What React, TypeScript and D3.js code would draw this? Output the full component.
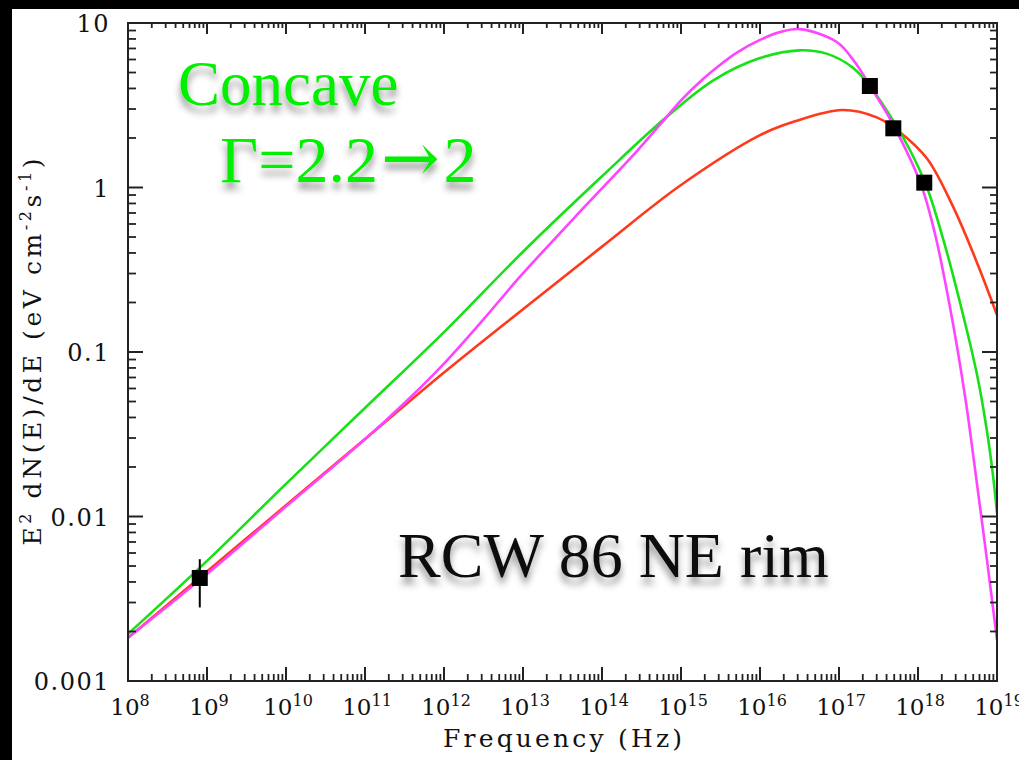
import React from 'react';
import * as d3 from 'd3';

// ---- data ----
const redFreq = [1e8, 1e9, 1e10, 1e11, 1e12, 1e13, 1e14, 1e15, 1e16, 2.6e16, 1.1e17, 3e17, 5.9e17, 1.3e18, 2.75e18, 5.6e18, 1e19];
const redValue = [0.00183, 0.00463, 0.0117, 0.0296, 0.075, 0.182, 0.437, 1.035, 2.08, 2.5, 2.96, 2.67, 2.17, 1.5, 0.773, 0.348, 0.168];

const greenFreq = [1e8, 1e9, 1e10, 1e11, 1e12, 1e13, 1e14, 6.6e14, 2.6e15, 1e16, 3.2e16, 7.1e16, 1.5e17, 2.45e17, 4.8e17, 7.9e17, 1.3e18, 2.1e18, 3.4e18, 5.6e18, 7.4e18, 8.9e18, 1e19];
const greenValue = [0.00193, 0.00537, 0.0158, 0.0457, 0.132, 0.407, 1.17, 2.69, 4.5, 6.12, 6.82, 6.49, 5.35, 4.14, 2.57, 1.69, 1.0, 0.479, 0.2, 0.0724, 0.0339, 0.0178, 0.0105];

const magentaFreq = [1e8, 1e9, 1e10, 1e11, 3.16e11, 1e12, 3.16e12, 9.1e12, 6.5e13, 2.75e14, 6.6e14, 1e15, 1.9e15, 3.2e15, 5.1e15, 1e16, 1.8e16, 3.2e16, 9.3e16, 1.6e17, 2.45e17, 4.8e17, 1.07e18, 1.6e18, 2.5e18, 4e18, 5.5e18, 7.4e18, 1e19];
const magentaValue = [0.00183, 0.00447, 0.0115, 0.0295, 0.049, 0.0851, 0.158, 0.286, 0.794, 1.66, 2.69, 3.39, 4.57, 5.62, 6.61, 7.89, 8.81, 9.18, 7.69, 5.75, 4.17, 2.43, 1.07, 0.55, 0.195, 0.0513, 0.0166, 0.00562, 0.00178];

const obsFreq = [8.1e8, 2.46e17, 4.87e17, 1.2e18];
const obsValue = [0.00423, 4.14, 2.29, 1.07];
const obsErrLow = [0.0028, null, null, null];
const obsErrHigh = [0.0055, null, null, null];

const xExponents = [8, 9, 10, 11, 12, 13, 14, 15, 16, 17, 18, 19];
const yTickValues = [0.001, 0.01, 0.1, 1, 10];
const yTickLabels = ['0.001', '0.01', '0.1', '1', '10'];

const W = 1019;
const H = 760;
const L = 128, R = 997, T = 23, B = 681;

export default function App() {
  const x = d3.scaleLog().domain([1e8, 1e19]).range([L, R]);
  const y = d3.scaleLog().domain([1e-3, 10]).range([B, T]);

  const line = d3
    .line<[number, number]>()
    .x((d) => x(d[0]))
    .y((d) => y(d[1]))
    .curve(d3.curveCatmullRom.alpha(0.5));

  const series = [
    { f: redFreq, v: redValue, color: '#ff3a1c' },
    { f: greenFreq, v: greenValue, color: '#18e018' },
    { f: magentaFreq, v: magentaValue, color: '#ff44ff' },
  ];

  const xMajor: number[] = xExponents.map((e) => Math.pow(10, e));
  const xMinor: number[] = [];
  for (let e = 8; e < 19; e++) for (let k = 2; k <= 9; k++) xMinor.push(k * Math.pow(10, e));
  const yMinor: number[] = [];
  for (let e = -3; e < 1; e++) for (let k = 2; k <= 9; k++) yMinor.push(k * Math.pow(10, e));

  const ink = '#222';
  const tickFont = "'DejaVu Serif', serif";
  const labelFont = "'DejaVu Serif', serif";
  const annFont = "'Liberation Serif', 'Times New Roman', serif";

  return (
    <svg width={W} height={H} style={{ position: 'absolute', left: 0, top: 0 }}>
      <defs>
        <filter id="shadow" x="-10%" y="-30%" width="120%" height="170%">
          <feDropShadow dx="0" dy="7" stdDeviation="3.5" floodColor="#000" floodOpacity="0.42" />
        </filter>
        <clipPath id="plotclip">
          <rect x={L} y={T} width={R - L} height={B - T} />
        </clipPath>
      </defs>
      <rect x={0} y={0} width={W} height={H} fill="#000" />
      <rect x={12} y={9} width={W - 12} height={H - 9} fill="#fff" />

      <g clipPath="url(#plotclip)">
        {series.map((s, i) => (
          <path
            key={i}
            d={line(s.f.map((f, j) => [f, s.v[j]] as [number, number])) || ''}
            fill="none"
            stroke={s.color}
            strokeWidth={2.6}
          />
        ))}
      </g>

      <rect x={L} y={T} width={R - L} height={B - T} fill="none" stroke={ink} strokeWidth={2} />

      {xMajor.map((v, i) => (
        <g key={'xM' + i}>
          <line x1={x(v)} x2={x(v)} y1={B} y2={B - 14} stroke={ink} strokeWidth={2} />
          <line x1={x(v)} x2={x(v)} y1={T} y2={T + 11} stroke={ink} strokeWidth={2} />
        </g>
      ))}
      {xMinor.map((v, i) => (
        <g key={'xm' + i}>
          <line x1={x(v)} x2={x(v)} y1={B} y2={B - 7} stroke={ink} strokeWidth={1.8} />
          <line x1={x(v)} x2={x(v)} y1={T} y2={T + 5} stroke={ink} strokeWidth={1.8} />
        </g>
      ))}
      {yTickValues.map((v, i) => (
        <g key={'yM' + i}>
          <line x1={L} x2={L + 15} y1={y(v)} y2={y(v)} stroke={ink} strokeWidth={2} />
          <line x1={R} x2={R - 15} y1={y(v)} y2={y(v)} stroke={ink} strokeWidth={2} />
        </g>
      ))}
      {yMinor.map((v, i) => (
        <g key={'ym' + i}>
          <line x1={L} x2={L + 8} y1={y(v)} y2={y(v)} stroke={ink} strokeWidth={1.8} />
          <line x1={R} x2={R - 7} y1={y(v)} y2={y(v)} stroke={ink} strokeWidth={1.8} />
        </g>
      ))}

      {yTickValues.map((v, i) => (
        <text key={'yl' + i} x={110} y={y(v) + 9} textAnchor="end" fontFamily={tickFont} fontSize={24} letterSpacing={1.5} fill="#111">
          {yTickLabels[i]}
        </text>
      ))}
      {xExponents.map((e, i) => (
        <text key={'xl' + i} x={x(Math.pow(10, e)) + 2} y={715} textAnchor="middle" fontFamily={tickFont} fontSize={23} fill="#111">
          10
          <tspan dy={-9} fontSize={16}>{String(e)}</tspan>
        </text>
      ))}

      <text x={(L + R) / 2} y={747} textAnchor="middle" fontFamily={labelFont} fontSize={25} textLength={239} lengthAdjust="spacing" fill="#111">
        Frequency (Hz)
      </text>
      <text
        transform={`translate(41, ${(T + B) / 2}) rotate(-90)`}
        textAnchor="middle"
        fontFamily={labelFont}
        fontSize={25}
        textLength={387}
        lengthAdjust="spacing"
        fill="#111"
      >
        E<tspan dy={-10} fontSize={16}>2</tspan>
        <tspan dy={10}> dN(E)/dE (eV cm</tspan>
        <tspan dy={-10} fontSize={16}>-2</tspan>
        <tspan dy={10}>s</tspan>
        <tspan dy={-10} fontSize={16}>-1</tspan>
        <tspan dy={10}>)</tspan>
      </text>

      {obsFreq.map((f, i) => (
        <g key={'pt' + i}>
          {obsErrLow[i] != null && (
            <line x1={x(f)} x2={x(f)} y1={y(obsErrLow[i] as number)} y2={y(obsErrHigh[i] as number)} stroke="#000" strokeWidth={2} />
          )}
          <rect x={x(f) - 8} y={y(obsValue[i]) - 8} width={16} height={16} fill="#000" />
        </g>
      ))}

      <g filter="url(#shadow)">
        <text x={178} y={105} fontFamily={annFont} fontSize={63} fill="#00f000">Concave</text>
        <text x={220} y={182} fontFamily={annFont} fontSize={66} fill="#00f000">
          Γ=2.2<tspan dx={3} fontFamily="'DejaVu Serif', serif" fontSize={70} fontWeight={300}>→</tspan><tspan dx={4}>2</tspan>
        </text>
        <text x={398} y={577} fontFamily={annFont} fontSize={64} fill="#111">RCW 86 NE rim</text>
      </g>
    </svg>
  );
}
